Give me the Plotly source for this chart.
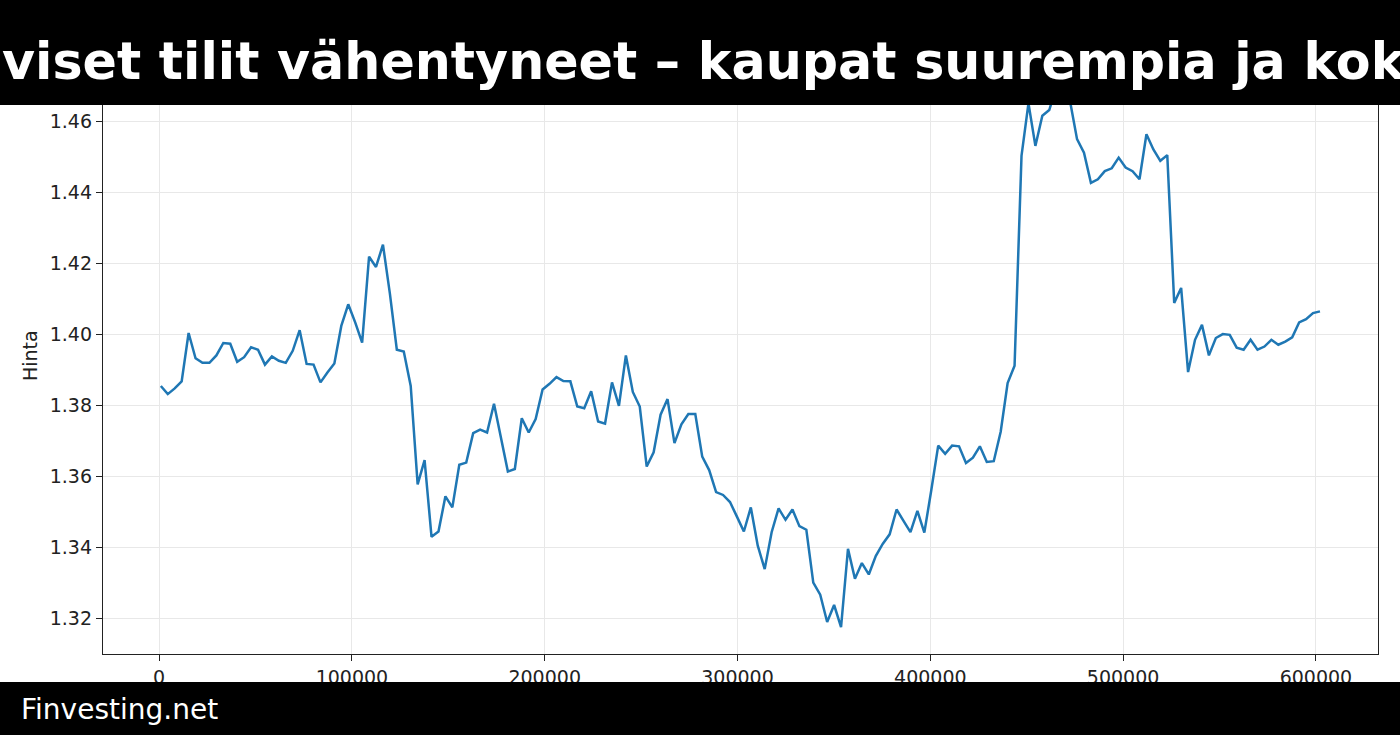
import plotly.graph_objects as go

# x positions: evenly spaced observations
x_start = 900
x_step = 3600

price = [
    1.3854, 1.3831, 1.3847, 1.3867, 1.4003, 1.3932, 1.3919, 1.3919, 1.3940, 1.3975,
    1.3973, 1.3922, 1.3935, 1.3963, 1.3956, 1.3914, 1.3937, 1.3925, 1.3919, 1.3953,
    1.4011, 1.3916, 1.3914, 1.3864, 1.3892, 1.3917, 1.4023, 1.4084, 1.4033, 1.3976,
    1.4218, 1.4189, 1.4252, 1.4114, 1.3956, 1.3951, 1.3854, 1.3577, 1.3645, 1.3429,
    1.3444, 1.3543, 1.3512, 1.3632, 1.3638, 1.3721, 1.3731, 1.3723, 1.3804, 1.3706,
    1.3613, 1.3620, 1.3763, 1.3723, 1.3761, 1.3844, 1.3860, 1.3879, 1.3868, 1.3867,
    1.3796, 1.3791, 1.3839, 1.3754, 1.3748, 1.3864, 1.3798, 1.3940, 1.3837, 1.3796,
    1.3627, 1.3667, 1.3773, 1.3817, 1.3693, 1.3746, 1.3775, 1.3775, 1.3655, 1.3617,
    1.3555, 1.3547, 1.3527, 1.3486, 1.3444, 1.3512, 1.3404, 1.3338, 1.3442, 1.3509,
    1.3477, 1.3506, 1.3459, 1.3449, 1.3300, 1.3266, 1.3189, 1.3237, 1.3175, 1.3395,
    1.3311, 1.3355, 1.3323, 1.3375, 1.3409, 1.3436, 1.3506, 1.3474, 1.3442, 1.3502,
    1.3441, 1.3560, 1.3686, 1.3663, 1.3686, 1.3684, 1.3637, 1.3652, 1.3684, 1.3640,
    1.3642, 1.3725, 1.3862, 1.3911, 1.4502, 1.4650, 1.4530, 1.4615, 1.4631, 1.4695,
    1.4685, 1.4655, 1.4549, 1.4511, 1.4426, 1.4436, 1.4459, 1.4467, 1.4497, 1.4469,
    1.4459, 1.4436, 1.4563, 1.4520, 1.4488, 1.4504, 1.4088, 1.4130, 1.3893, 1.3984,
    1.4026, 1.3940, 1.3989, 1.4000, 1.3998, 1.3962, 1.3956, 1.3984, 1.3956, 1.3965,
    1.3984, 1.3970, 1.3979, 1.3991, 1.4033, 1.4042, 1.4059, 1.4064,
]
x_vals = [x_start + i * x_step for i in range(len(price))]

y_ticks = [1.32, 1.34, 1.36, 1.38, 1.40, 1.42, 1.44, 1.46]
x_ticks = [0, 100000, 200000, 300000, 400000, 500000, 600000]

title_text = "viset tilit vähentyneet – kaupat suurempia ja kok"
footer_text = "Finvesting.net"
y_label = "Hinta"

# page geometry (pixels)
W, H = 1400, 735
ML, MR, MT, MB = 103, 22, 60, 81
PW, PH = W - ML - MR, H - MT - MB


def px(xp):
    return (xp - ML) / PW


def py(yp):
    return (H - MB - yp) / PH


fig = go.Figure()
fig.add_trace(go.Scatter(
    x=x_vals, y=price, mode="lines",
    line=dict(color="#1f77b4", width=2.5),
    hoverinfo="x+y",
))

axis_common = dict(
    showline=True, linecolor="#222222", linewidth=1.3, mirror=True,
    ticks="outside", ticklen=6, tickwidth=1.2, tickcolor="#222222",
    showgrid=True, gridcolor="#e8e8e8", gridwidth=1,
    zeroline=False,
    tickfont=dict(family="DejaVu Sans", size=19, color="#222222"),
)

fig.update_xaxes(
    range=[-29100, 632200], tickvals=x_ticks,
    ticktext=[str(v) for v in x_ticks], **axis_common
)
fig.update_yaxes(
    range=[1.3099, 1.4772], tickvals=y_ticks,
    ticktext=["%.2f" % v for v in y_ticks], **axis_common
)

shapes = [
    # top banner
    dict(type="rect", xref="paper", yref="paper", layer="above",
         x0=px(-10), x1=px(W + 10), y0=py(105), y1=py(-10),
         fillcolor="black", line=dict(width=0)),
    # bottom banner
    dict(type="rect", xref="paper", yref="paper", layer="above",
         x0=px(-10), x1=px(W + 10), y0=py(H + 10), y1=py(682),
         fillcolor="black", line=dict(width=0)),
]

annotations = [
    dict(text="<b>" + title_text + "</b>", xref="paper", yref="paper",
         x=px(0), y=py(61), xanchor="left", yanchor="middle", showarrow=False,
         font=dict(family="DejaVu Sans", size=50.7, color="white")),
    dict(text=footer_text, xref="paper", yref="paper",
         x=px(19), y=py(709), xanchor="left", yanchor="middle", showarrow=False,
         font=dict(family="DejaVu Sans", size=28, color="white")),
    dict(text=y_label, xref="paper", yref="paper", textangle=-90,
         x=px(30), y=py(356), xanchor="center", yanchor="middle", showarrow=False,
         font=dict(family="DejaVu Sans", size=19, color="#222222")),
]

fig.update_layout(
    width=W, height=H,
    margin=dict(l=ML, r=MR, t=MT, b=MB, pad=0),
    paper_bgcolor="white", plot_bgcolor="white",
    showlegend=False,
    shapes=shapes,
    annotations=annotations,
)

# drop the browser's default body margin so the figure fills the window
fig.write_html("out.html", config={"displayModeBar": False},
               post_script="document.body.style.margin='0';")
